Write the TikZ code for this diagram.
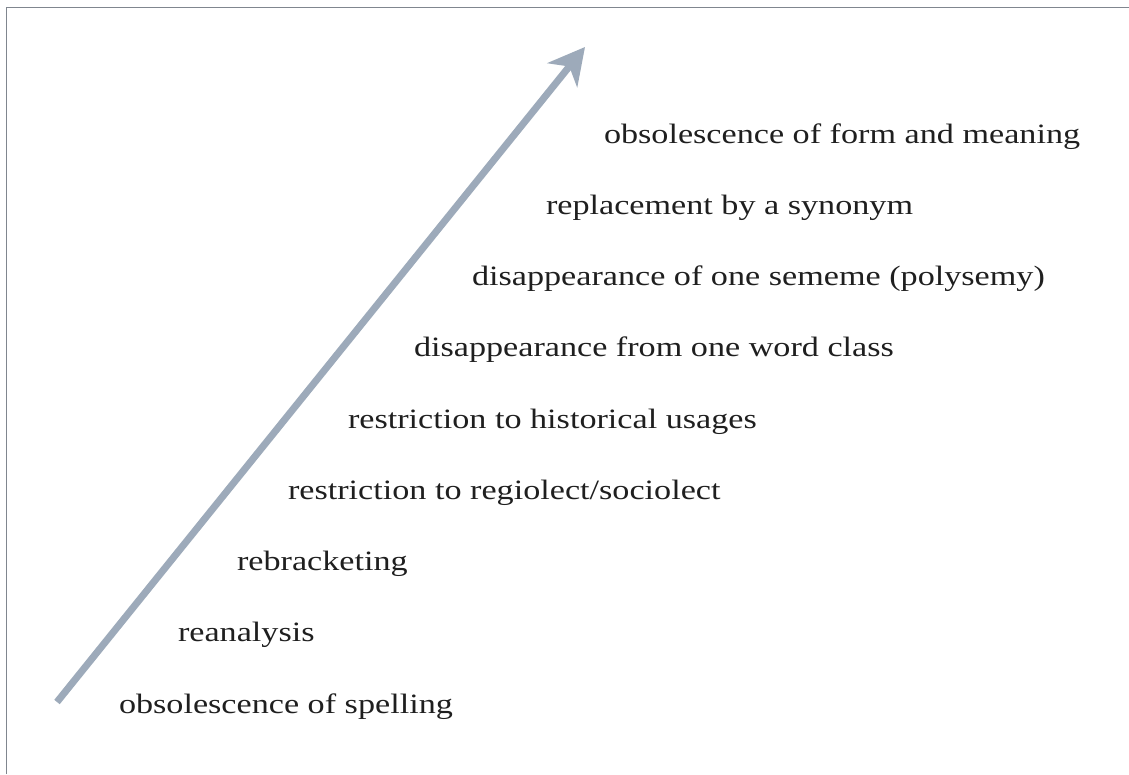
\documentclass[tikz,border=0pt]{standalone}
\usepackage{fontspec}
\setmainfont{Liberation Serif}[FakeStretch=1.22]
\usetikzlibrary{arrows.meta}
\definecolor{arrowcol}{HTML}{9DAABA}
\definecolor{framecol}{HTML}{80868F}
\tikzset{
  lbl/.style={anchor=base west, inner sep=0pt, outer sep=0pt, font=\fontsize{28}{32}\selectfont, text=black!88},
  bigarrow/.style={draw=arrowcol, line width=7pt, -{Stealth[length=36pt, width=38pt, inset=11pt, fill=arrowcol]}},
  framer/.style={draw=framecol, line width=1.3pt}
}
\begin{document}
\begin{tikzpicture}[x=1pt, y=-1pt]
\useasboundingbox (0,0) rectangle (1129,774);
\fill[white] (0,0) rectangle (1129,774);
\coordinate (fa) at (6.5,774);
\coordinate (fb) at (6.5,7.5);
\coordinate (fc) at (1129,7.5);
\draw[framer] (fa) -- (fb) -- (fc);
\coordinate (tail) at (57,702);
\coordinate (tip) at (585,47);
\draw[bigarrow] (tail) -- (tip);
\node[lbl] (t9) at (604,143) {obsolescence of form and meaning};
\node[lbl] (t8) at (546,214.25) {replacement by a synonym};
\node[lbl] (t7) at (472,285.5) {disappearance of one sememe (polysemy)};
\node[lbl] (t6) at (414,356.75) {disappearance from one word class};
\node[lbl] (t5) at (348,428) {restriction to historical usages};
\node[lbl] (t4) at (288,499.25) {restriction to regiolect/sociolect};
\node[lbl] (t3) at (237,570.5) {rebracketing};
\node[lbl] (t2) at (178,641.75) {reanalysis};
\node[lbl] (t1) at (119,713) {obsolescence of spelling};
\end{tikzpicture}
\end{document}
